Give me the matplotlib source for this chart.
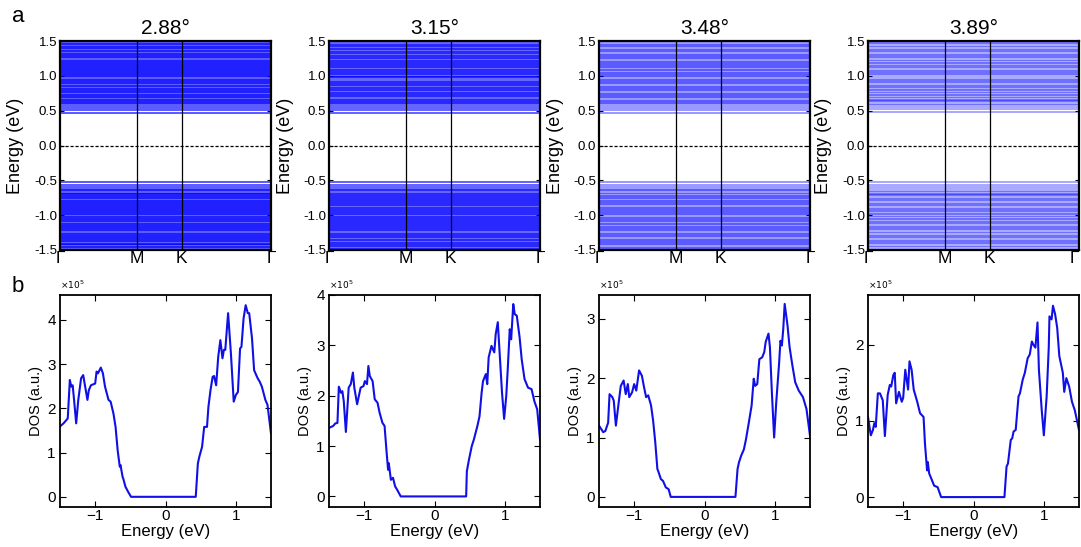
import numpy as np
import matplotlib
matplotlib.use("Agg")
import matplotlib.pyplot as plt

plt.rcParams['font.family'] = ['Liberation Sans', 'DejaVu Sans']

angles = ['2.88°', '3.15°', '3.48°', '3.89°']

# high-symmetry path: Gamma - M - K - Gamma (hexagonal BZ lengths)
k_labels = ['Γ', 'M', 'K', 'Γ']
k_ticks = [0.0, 0.577, 0.910, 1.577]

# band energies (eV), conduction / valence
bands_288_c = [0.47, 0.51, 0.54, 0.57, 0.59, 0.61, 0.62, 0.64, 0.65, 0.67, 0.69,
               0.70, 0.72, 0.73, 0.75, 0.77, 0.78, 0.80, 0.81, 0.83, 0.85, 0.86, 0.88,
               0.89, 0.91, 0.92, 0.94, 0.95, 0.98, 1.00, 1.01, 1.02, 1.04, 1.05, 1.07, 1.08,
               1.10, 1.11, 1.13, 1.14, 1.16, 1.17, 1.19, 1.20, 1.22, 1.23, 1.25, 1.27,
               1.28, 1.30, 1.31, 1.33, 1.35, 1.36, 1.38, 1.40, 1.41, 1.43, 1.45, 1.46, 1.48, 1.50]
bands_288_v = [-0.52, -0.56, -0.59, -0.62, -0.64, -0.66, -0.68, -0.69, -0.70, -0.72,
               -0.73, -0.75, -0.76, -0.78, -0.79, -0.81, -0.82, -0.84, -0.85, -0.87, -0.88,
               -0.90, -0.91, -0.93, -0.94, -0.96, -0.97, -0.99, -1.00, -1.02, -1.03, -1.05,
               -1.06, -1.08, -1.09, -1.11, -1.12, -1.14, -1.15, -1.17, -1.18, -1.20, -1.21,
               -1.23, -1.26, -1.27, -1.28, -1.30, -1.31, -1.33, -1.34, -1.36, -1.37, -1.39, -1.41,
               -1.42, -1.43, -1.45, -1.46, -1.48, -1.50]
bands_315_c = [0.47, 0.51, 0.54, 0.57, 0.59, 0.61, 0.62, 0.64, 0.66, 0.67, 0.69,
               0.71, 0.72, 0.74, 0.75, 0.77, 0.79, 0.80, 0.82, 0.83, 0.85, 0.87, 0.88,
               0.90, 0.91, 0.93, 0.95, 0.98, 0.99, 1.00, 1.02, 1.03, 1.05, 1.06, 1.08, 1.09,
               1.11, 1.12, 1.14, 1.15, 1.17, 1.18, 1.20, 1.21, 1.23, 1.25, 1.26, 1.28,
               1.29, 1.31, 1.33, 1.34, 1.36, 1.38, 1.39, 1.41, 1.43, 1.44, 1.46, 1.48, 1.50]
bands_315_v = [-0.52, -0.56, -0.59, -0.62, -0.64, -0.66, -0.68, -0.69, -0.71, -0.72,
               -0.74, -0.75, -0.77, -0.78, -0.80, -0.81, -0.83, -0.84, -0.86, -0.87, -0.89,
               -0.90, -0.92, -0.93, -0.95, -0.96, -0.98, -0.99, -1.01, -1.02, -1.04, -1.05,
               -1.07, -1.08, -1.10, -1.11, -1.13, -1.14, -1.16, -1.17, -1.19, -1.20, -1.22,
               -1.23, -1.26, -1.27, -1.29, -1.30, -1.32, -1.33, -1.35, -1.36, -1.38, -1.40, -1.41,
               -1.43, -1.44, -1.46, -1.48, -1.49]
bands_348_c = [0.47, 0.51, 0.54, 0.57, 0.59, 0.61, 0.63, 0.64, 0.66, 0.68, 0.69,
               0.71, 0.73, 0.74, 0.76, 0.78, 0.79, 0.81, 0.83, 0.84, 0.86, 0.88, 0.89,
               0.91, 0.93, 0.94, 0.96, 0.99, 1.00, 1.01, 1.03, 1.04, 1.06, 1.08, 1.09, 1.11, 1.12,
               1.14, 1.15, 1.17, 1.19, 1.20, 1.22, 1.24, 1.25, 1.27, 1.29, 1.30, 1.32,
               1.34, 1.36, 1.37, 1.39, 1.41, 1.43, 1.44, 1.46, 1.48, 1.50]
bands_348_v = [-0.52, -0.56, -0.59, -0.62, -0.64, -0.66, -0.68, -0.70, -0.72, -0.73,
               -0.75, -0.76, -0.78, -0.80, -0.81, -0.83, -0.84, -0.86, -0.88, -0.89, -0.91,
               -0.92, -0.94, -0.96, -0.97, -0.99, -1.00, -1.02, -1.04, -1.05, -1.07, -1.08,
               -1.10, -1.12, -1.13, -1.15, -1.17, -1.18, -1.20, -1.21, -1.23, -1.26, -1.27, -1.29, -1.30,
               -1.32, -1.34, -1.35, -1.37, -1.38, -1.40, -1.42, -1.43, -1.45, -1.47, -1.49]
bands_389_c = [0.48, 0.52, 0.55, 0.58, 0.60, 0.62, 0.64, 0.65, 0.66, 0.68, 0.70, 0.72,
               0.73, 0.75, 0.77, 0.79, 0.80, 0.82, 0.84, 0.86, 0.87, 0.89, 0.91, 0.93,
               0.94, 0.96, 0.99, 1.01, 1.02, 1.04, 1.05, 1.07, 1.09, 1.11, 1.12, 1.14, 1.16, 1.18,
               1.19, 1.21, 1.23, 1.25, 1.27, 1.28, 1.30, 1.32, 1.34, 1.36, 1.37, 1.39,
               1.41, 1.43, 1.45, 1.47, 1.49]
bands_389_v = [-0.52, -0.57, -0.60, -0.63, -0.65, -0.67, -0.69, -0.70, -0.71, -0.73, -0.75,
               -0.77, -0.78, -0.80, -0.82, -0.84, -0.85, -0.87, -0.89, -0.91, -0.92, -0.94,
               -0.96, -0.98, -0.99, -1.01, -1.03, -1.05, -1.06, -1.08, -1.10, -1.11, -1.13, -1.15,
               -1.17, -1.19, -1.20, -1.22, -1.24, -1.26, -1.28, -1.30, -1.32, -1.33, -1.35, -1.37,
               -1.39, -1.40, -1.42, -1.44, -1.46, -1.48, -1.50]

band_sets = [(bands_288_c, bands_288_v), (bands_315_c, bands_315_v),
             (bands_348_c, bands_348_v), (bands_389_c, bands_389_v)]
band_alpha = [0.8, 0.75, 0.5, 0.42]

# DOS curves (x1e5), energy in eV
dos_288_e = [-1.50, -1.45, -1.39, -1.36, -1.34, -1.32, -1.30, -1.27, -1.24, -1.20, -1.17, -1.15,
             -1.11, -1.09, -1.06, -1.00, -0.98, -0.96, -0.92, -0.89, -0.86, -0.81, -0.78, -0.74,
             -0.71, -0.68, -0.65, -0.64, -0.61, -0.60, -0.57, -0.53, -0.49, 0.43, 0.46, 0.48,
             0.52, 0.55, 0.59, 0.61, 0.64, 0.67, 0.69, 0.72, 0.75, 0.78, 0.81, 0.83, 0.85,
             0.89, 0.93, 0.97, 1.00, 1.03, 1.06, 1.08, 1.11, 1.14, 1.17, 1.19, 1.23, 1.26,
             1.31, 1.34, 1.37, 1.42, 1.45, 1.50]
dos_288 = [1.59, 1.66, 1.77, 2.64, 2.49, 2.52, 2.19, 1.66, 2.19, 2.68, 2.75, 2.56,
           2.19, 2.41, 2.52, 2.56, 2.83, 2.79, 2.92, 2.79, 2.49, 2.19, 2.15, 1.88,
           1.58, 1.05, 0.68, 0.72, 0.45, 0.41, 0.23, 0.11, 0.0, 0.0, 0.75, 0.90,
           1.13, 1.58, 1.58, 2.03, 2.41, 2.71, 2.73, 2.52, 3.17, 3.54, 3.13, 3.32, 3.32,
           4.15, 3.24, 2.15, 2.30, 2.37, 3.35, 3.39, 4.03, 4.33, 4.15, 4.15, 3.58, 2.86,
           2.68, 2.60, 2.49, 2.19, 2.08, 1.43]
dos_315_e = [-1.50, -1.44, -1.41, -1.38, -1.36, -1.33, -1.31, -1.29, -1.26, -1.22, -1.19, -1.16,
             -1.14, -1.10, -1.07, -1.05, -1.01, -0.99, -0.96, -0.94, -0.92, -0.88, -0.85, -0.81,
             -0.78, -0.74, -0.71, -0.68, -0.66, -0.65, -0.62, -0.59, -0.56, -0.53, -0.48, 0.45,
             0.46, 0.49, 0.53, 0.56, 0.61, 0.64, 0.67, 0.69, 0.73, 0.75, 0.77, 0.81, 0.85,
             0.87, 0.90, 0.92, 0.96, 0.99, 1.02, 1.04, 1.07, 1.09, 1.12, 1.14, 1.17, 1.21,
             1.24, 1.28, 1.33, 1.38, 1.42, 1.46, 1.50]
dos_315 = [1.36, 1.40, 1.45, 1.46, 2.18, 2.06, 2.09, 1.89, 1.28, 2.16, 2.23, 2.46,
           2.16, 1.83, 2.03, 2.16, 2.19, 2.29, 2.23, 2.59, 2.39, 2.29, 1.93, 1.86,
           1.66, 1.46, 1.40, 0.86, 0.53, 0.66, 0.33, 0.37, 0.20, 0.13, 0.0, 0.0,
           0.50, 0.73, 1.00, 1.13, 1.40, 1.59, 2.06, 2.29, 2.43, 2.23, 2.76, 2.99, 2.86,
           3.22, 3.46, 2.99, 2.06, 1.54, 1.99, 2.49, 3.32, 3.12, 3.82, 3.62, 3.59, 3.16,
           2.72, 2.33, 2.16, 2.13, 1.89, 1.73, 1.13]
dos_348_e = [-1.50, -1.44, -1.41, -1.37, -1.35, -1.31, -1.29, -1.26, -1.22, -1.19, -1.15, -1.12,
             -1.09, -1.07, -1.03, -1.00, -0.97, -0.93, -0.89, -0.86, -0.83, -0.80, -0.76, -0.73,
             -0.70, -0.67, -0.66, -0.62, -0.59, -0.55, -0.51, -0.48, 0.44, 0.47, 0.49, 0.52,
             0.56, 0.59, 0.63, 0.67, 0.70, 0.72, 0.75, 0.78, 0.82, 0.85, 0.87, 0.91, 0.93,
             0.96, 0.99, 1.02, 1.06, 1.08, 1.10, 1.12, 1.14, 1.18, 1.21, 1.25, 1.29, 1.34,
             1.40, 1.45, 1.50]
dos_348 = [1.20, 1.09, 1.11, 1.25, 1.73, 1.68, 1.62, 1.20, 1.59, 1.87, 1.96, 1.73,
           1.90, 1.68, 1.76, 1.90, 1.79, 2.13, 2.04, 1.85, 1.68, 1.71, 1.54, 1.28,
           0.92, 0.47, 0.44, 0.30, 0.27, 0.16, 0.13, 0.0, 0.0, 0.47, 0.58, 0.69,
           0.80, 0.97, 1.25, 1.54, 1.99, 1.87, 1.90, 2.32, 2.35, 2.44, 2.61, 2.75, 2.52,
           1.71, 1.00, 1.59, 2.24, 2.63, 2.55, 2.83, 3.25, 2.89, 2.52, 2.21, 1.93, 1.79,
           1.68, 1.48, 1.03]
dos_389_e = [-1.50, -1.46, -1.43, -1.41, -1.39, -1.36, -1.33, -1.29, -1.26, -1.22, -1.19, -1.17,
             -1.14, -1.12, -1.10, -1.06, -1.02, -1.00, -0.97, -0.93, -0.91, -0.88, -0.85, -0.80,
             -0.76, -0.71, -0.69, -0.66, -0.65, -0.63, -0.59, -0.56, -0.51, -0.46, 0.44, 0.47,
             0.49, 0.53, 0.55, 0.57, 0.60, 0.62, 0.64, 0.66, 0.70, 0.73, 0.77, 0.80, 0.83,
             0.85, 0.88, 0.91, 0.93, 0.97, 1.00, 1.04, 1.07, 1.08, 1.11, 1.13, 1.16, 1.19,
             1.22, 1.27, 1.29, 1.32, 1.36, 1.40, 1.44, 1.50]
dos_389 = [1.05, 0.81, 0.88, 0.97, 0.92, 1.36, 1.36, 1.27, 0.80, 1.34, 1.47, 1.45,
           1.60, 1.63, 1.23, 1.38, 1.25, 1.30, 1.67, 1.41, 1.78, 1.67, 1.41, 1.25,
           1.10, 1.05, 0.70, 0.35, 0.46, 0.31, 0.22, 0.15, 0.13, 0.0, 0.0, 0.40,
           0.44, 0.75, 0.77, 0.86, 0.88, 1.10, 1.32, 1.36, 1.54, 1.63, 1.82, 1.87, 2.04,
           2.00, 1.96, 2.29, 1.67, 1.14, 0.81, 1.32, 1.96, 2.37, 2.33, 2.51, 2.40, 2.22,
           1.85, 1.63, 1.38, 1.56, 1.45, 1.25, 1.14, 0.88]

dos_sets = [(dos_288_e, dos_288), (dos_315_e, dos_315), (dos_348_e, dos_348), (dos_389_e, dos_389)]
dos_ylim = [(-0.23, 4.56), (-0.21, 4.0), (-0.17, 3.40), (-0.13, 2.65)]
dos_yticks = [[0, 1, 2, 3, 4], [0, 1, 2, 3, 4], [0, 1, 2, 3], [0, 1, 2]]

W, H = 1081, 547
fig = plt.figure(figsize=(W / 100, H / 100), dpi=100)
lefts = [60, 329, 599, 868]
aw = 211

for i in range(4):
    # --- band structure panel ---
    ax = fig.add_axes([lefts[i] / W, 1 - 250 / H, aw / W, 209 / H])
    cb, vb = band_sets[i]
    ax.hlines(cb + vb, k_ticks[0], k_ticks[-1], color='#0000ff', lw=1.15,
              alpha=band_alpha[i])
    for kx in k_ticks[1:3]:
        ax.axvline(kx, color='black', lw=0.9)
    ax.axhline(0, color='black', lw=0.9, ls=(0, (2.5, 1.5)))
    ax.set_xlim(k_ticks[0], k_ticks[-1])
    ax.set_ylim(-1.5, 1.5)
    ax.set_xticks(k_ticks)
    ax.set_xticklabels(k_labels, fontsize=12.5)
    if i == 3:
        ax.get_xticklabels()[-1].set_horizontalalignment('right')
    ax.tick_params(axis='x', length=0, pad=1)
    yt = [-1.5, -1.0, -0.5, 0.0, 0.5, 1.0, 1.5]
    ax.set_yticks(yt)
    ax.set_yticklabels(['%.1f' % v for v in yt], fontsize=9.5)
    ax.tick_params(axis='y', direction='in', length=3, right=True, pad=2)
    for s in ax.spines.values():
        s.set_linewidth(1.6)
    ax.set_ylabel('Energy (eV)', fontsize=13, labelpad=7)
    ax.set_title(angles[i], fontsize=15, pad=5)

    # --- DOS panel ---
    ax2 = fig.add_axes([lefts[i] / W, 1 - 507 / H, aw / W, 212 / H])
    e, d = dos_sets[i]
    ax2.plot(e, d, color='#1010e6', lw=1.5)
    ax2.set_xlim(-1.5, 1.5)
    ax2.set_ylim(*dos_ylim[i])
    ax2.set_xticks([-1, 0, 1])
    ax2.set_yticks(dos_yticks[i])
    ax2.tick_params(direction='in', length=4, top=True, right=True, labelsize=11, pad=3)
    ax2.tick_params(axis='x', pad=1.5)
    for s in ax2.spines.values():
        s.set_linewidth(1.3)
    ax2.set_xlabel('Energy (eV)', fontsize=12, labelpad=0.5)
    ax2.set_ylabel('DOS (a.u.)', fontsize=10.5, labelpad=3)
    ax2.text(0.0, 1.02, r'$\times10^{5}$', transform=ax2.transAxes, fontsize=6.5,
             ha='left', va='bottom')

fig.text(18 / W, 1 - 17 / H, 'a', fontsize=16, ha='center', va='center')
fig.text(18 / W, 1 - 287 / H, 'b', fontsize=16, ha='center', va='center')

fig.savefig('out.png', dpi=100)
